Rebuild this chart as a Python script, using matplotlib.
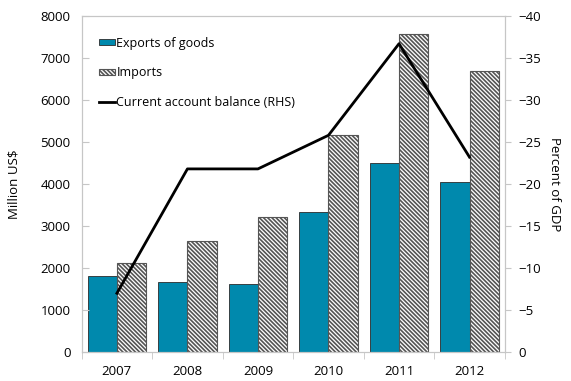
import matplotlib
matplotlib.use("Agg")
import matplotlib.pyplot as plt
from matplotlib.ticker import FixedLocator
import numpy as np

plt.rcParams['font.family'] = ['Open Sans', 'DejaVu Sans']
plt.rcParams['hatch.linewidth'] = 1.2

years = ["2007", "2008", "2009", "2010", "2011", "2012"]
exports = [1810, 1660, 1620, 3330, 4500, 4040]
imports = [2110, 2640, 3210, 5170, 7560, 6700]
current_account = [-7.0, -21.8, -21.8, -25.8, -36.7, -23.2]

x = np.arange(len(years))
w = 0.415
grey = "#c6c6c6"

fig = plt.figure(figsize=(5.71, 3.81), dpi=100)
ax = fig.add_axes([0.143, 0.076, 0.741, 0.882])

b1 = ax.bar(x - w / 2, exports, w, color="#0089ad", edgecolor="#2b2b2b",
            linewidth=0.6, label="Exports of goods")
b2 = ax.bar(x + w / 2, imports, w, color="white", edgecolor="#555555",
            hatch="\\" * 8, linewidth=0.8, label="Imports")

ax.set_xlim(-0.5, len(years) - 0.5)
ax.set_ylim(0, 8000)
ax.set_yticks(range(0, 8001, 1000))
ax.set_xticks(x)
ax.set_xticklabels(years)
ax.xaxis.set_minor_locator(FixedLocator(np.arange(-0.5, len(years), 1.0)))
ax.tick_params(axis="x", which="major", length=0, pad=9, labelsize=9.5)
ax.tick_params(axis="x", which="minor", length=5, color=grey, direction="out")
ax.tick_params(axis="y", length=5, color=grey, direction="in", labelsize=9.5, pad=8)
ax.set_ylabel("Million US$", fontsize=9.5, labelpad=14)
for s in ax.spines.values():
    s.set_color(grey)

ax2 = ax.twinx()
line, = ax2.plot(x, current_account, color="black", linewidth=2,
                 label="Current account balance (RHS)")
ax2.set_ylim(0, -40)
ax2.set_yticks(range(0, -41, -5))
ax2.tick_params(axis="y", length=4, color=grey, direction="out", labelsize=9.5, pad=6)
ax2.set_ylabel("Percent of GDP", rotation=270, fontsize=9.5, labelpad=14)
for s in ax2.spines.values():
    s.set_color(grey)

ax2.legend([b1, b2, line], [b1.get_label(), b2.get_label(), line.get_label()],
           loc="upper left", bbox_to_anchor=(0.02, 0.965), frameon=False,
           fontsize=9, handlelength=1.3, handleheight=0.45, handletextpad=0.1,
           labelspacing=1.35, borderaxespad=0.3)

fig.savefig("out.png", dpi=100)
